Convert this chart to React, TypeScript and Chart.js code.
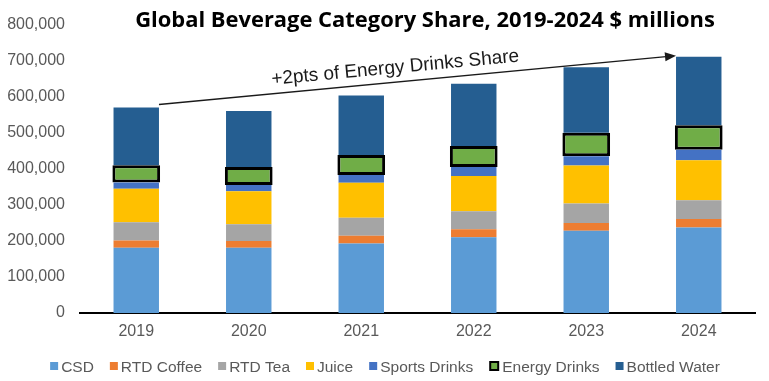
import React, { useEffect, useRef } from "react";
import { Chart, registerables } from "chart.js";

Chart.register(...registerables);

const years = ["2019", "2020", "2021", "2022", "2023", "2024"];
const csd = [181000, 181000, 193000, 210000, 228000, 237000];
const rtdCoffee = [20000, 19000, 21000, 22000, 22000, 24000];
const rtdTea = [51000, 46000, 50000, 50000, 54000, 52000];
const juice = [93000, 92000, 97000, 98000, 105000, 111000];
const sportsDrinks = [17000, 17000, 22000, 25000, 26000, 29000];
const energyDrinks = [48000, 50000, 55000, 58000, 65000, 68000];
const bottledWater = [160000, 155000, 165000, 173000, 182000, 190000];

const seriesNames = ["CSD", "RTD Coffee", "RTD Tea", "Juice", "Sports Drinks", "Energy Drinks", "Bottled Water"];
const seriesColors = ["#5B9BD5", "#ED7D31", "#A5A5A5", "#FFC000", "#4472C4", "#70AD47", "#255E91"];
const seriesValues = [csd, rtdCoffee, rtdTea, juice, sportsDrinks, energyDrinks, bottledWater];

const titleText = "Global Beverage Category Share, 2019-2024 $ millions";
const annotationText = "+2pts of Energy Drinks Share";

const LABEL_FONT = '"Liberation Sans", Arial, sans-serif';

const overlayPlugin = {
  id: "overlay",
  afterDraw(chart: any) {
    const ctx = chart.ctx as CanvasRenderingContext2D;
    ctx.save();

    // Title
    let size = 20;
    ctx.font = `bold ${size}px "Open Sans"`;
    const w = ctx.measureText(titleText).width;
    size = (size * 580) / w;
    ctx.font = `bold ${size}px "Open Sans"`;
    ctx.fillStyle = "#000";
    ctx.textAlign = "center";
    ctx.textBaseline = "alphabetic";
    ctx.fillText(titleText, 425, 27);

    // Arrow annotation anchored to bar tops
    const meta = chart.getDatasetMeta(6);
    const b0 = meta.data[0] as any;
    const b5 = meta.data[5] as any;
    const x1 = b0.x + b0.width / 2;
    const y1 = b0.y - 3;
    const x2 = b5.x - b5.width / 2;
    const y2 = b5.y - 1;
    const ang = Math.atan2(y2 - y1, x2 - x1);
    const len = Math.hypot(x2 - x1, y2 - y1);
    const head = 11;
    ctx.translate(x1, y1);
    ctx.rotate(ang);
    ctx.strokeStyle = "#1a1a1a";
    ctx.fillStyle = "#1a1a1a";
    ctx.lineWidth = 1.5;
    ctx.beginPath();
    ctx.moveTo(0, 0);
    ctx.lineTo(len - head + 1, 0);
    ctx.stroke();
    ctx.beginPath();
    ctx.moveTo(len, 0);
    ctx.lineTo(len - head, -4.5);
    ctx.lineTo(len - head, 4.5);
    ctx.closePath();
    ctx.fill();
    ctx.font = `19px ${LABEL_FONT}`;
    ctx.textAlign = "left";
    ctx.fillText(annotationText, len * 0.22, -9);
    ctx.setTransform(1, 0, 0, 1, 0, 0);

    // Legend
    ctx.font = `15.5px ${LABEL_FONT}`;
    ctx.textAlign = "left";
    ctx.textBaseline = "alphabetic";
    const gap = 3;
    const itemGap = 16;
    const widths = seriesNames.map((n, i) => (i === 5 ? 10 : 8) + gap + ctx.measureText(n).width);
    const total = widths.reduce((a, b) => a + b, 0) + itemGap * (seriesNames.length - 1);
    let x = 385 - total / 2;
    seriesNames.forEach((n, i) => {
      if (i === 5) {
        ctx.fillStyle = "#000";
        ctx.fillRect(x, 361, 10, 10);
        ctx.fillStyle = seriesColors[i];
        ctx.fillRect(x + 2, 363, 6, 6);
        x += 10;
      } else {
        ctx.fillStyle = seriesColors[i];
        ctx.fillRect(x, 362, 8, 8);
        x += 8;
      }
      x += gap;
      ctx.fillStyle = "#595959";
      ctx.fillText(n, x, 372);
      x += ctx.measureText(n).width + itemGap;
    });
    ctx.restore();
  },
};

export default function App() {
  const ref = useRef<HTMLCanvasElement | null>(null);
  useEffect(() => {
    if (!ref.current) return;
    const datasets = seriesNames.map((name, i) => {
      const isEnergy = i === 5;
      return {
        label: name,
        data: seriesValues[i],
        backgroundColor: seriesColors[i],
        borderColor: isEnergy ? "#000" : seriesColors[i],
        borderWidth: isEnergy ? 3 : 0,
        borderSkipped: false as any,
        borderRadius: isEnergy ? 2 : 0,
        barPercentage: isEnergy ? 0.424 : 0.404,
        categoryPercentage: 1,
        stack: "s",
      };
    });
    const chart = new Chart(ref.current, {
      type: "bar",
      data: { labels: years, datasets },
      options: {
        responsive: false,
        animation: false,
        devicePixelRatio: 1,
        layout: { padding: { left: 0, right: 14, top: 24, bottom: 38 } },
        plugins: { legend: { display: false }, tooltip: { enabled: false }, title: { display: false } },
        scales: {
          x: {
            stacked: true,
            grid: { display: false, drawTicks: false },
            border: { display: true, color: "#000", width: 2 },
            ticks: { color: "#595959", font: { family: LABEL_FONT, size: 16 }, padding: 9 },
            afterFit: (s: any) => {
              s.height = 30;
            },
          },
          y: {
            stacked: true,
            min: 0,
            max: 800000,
            grid: { display: false, drawTicks: false },
            border: { display: false },
            ticks: {
              stepSize: 100000,
              color: "#595959",
              font: { family: LABEL_FONT, size: 16 },
              padding: 15,
              callback: (v: any) => Number(v).toLocaleString("en-US"),
            },
            afterFit: (s: any) => {
              s.width = 80;
            },
          },
        },
      },
      plugins: [overlayPlugin],
    });
    return () => chart.destroy();
  }, []);
  return (
    <div style={{ position: "fixed", left: 0, top: 0, width: 769, height: 381, background: "#fff" }}>
      <canvas ref={ref} width={769} height={381} style={{ display: "block" }} />
    </div>
  );
}
